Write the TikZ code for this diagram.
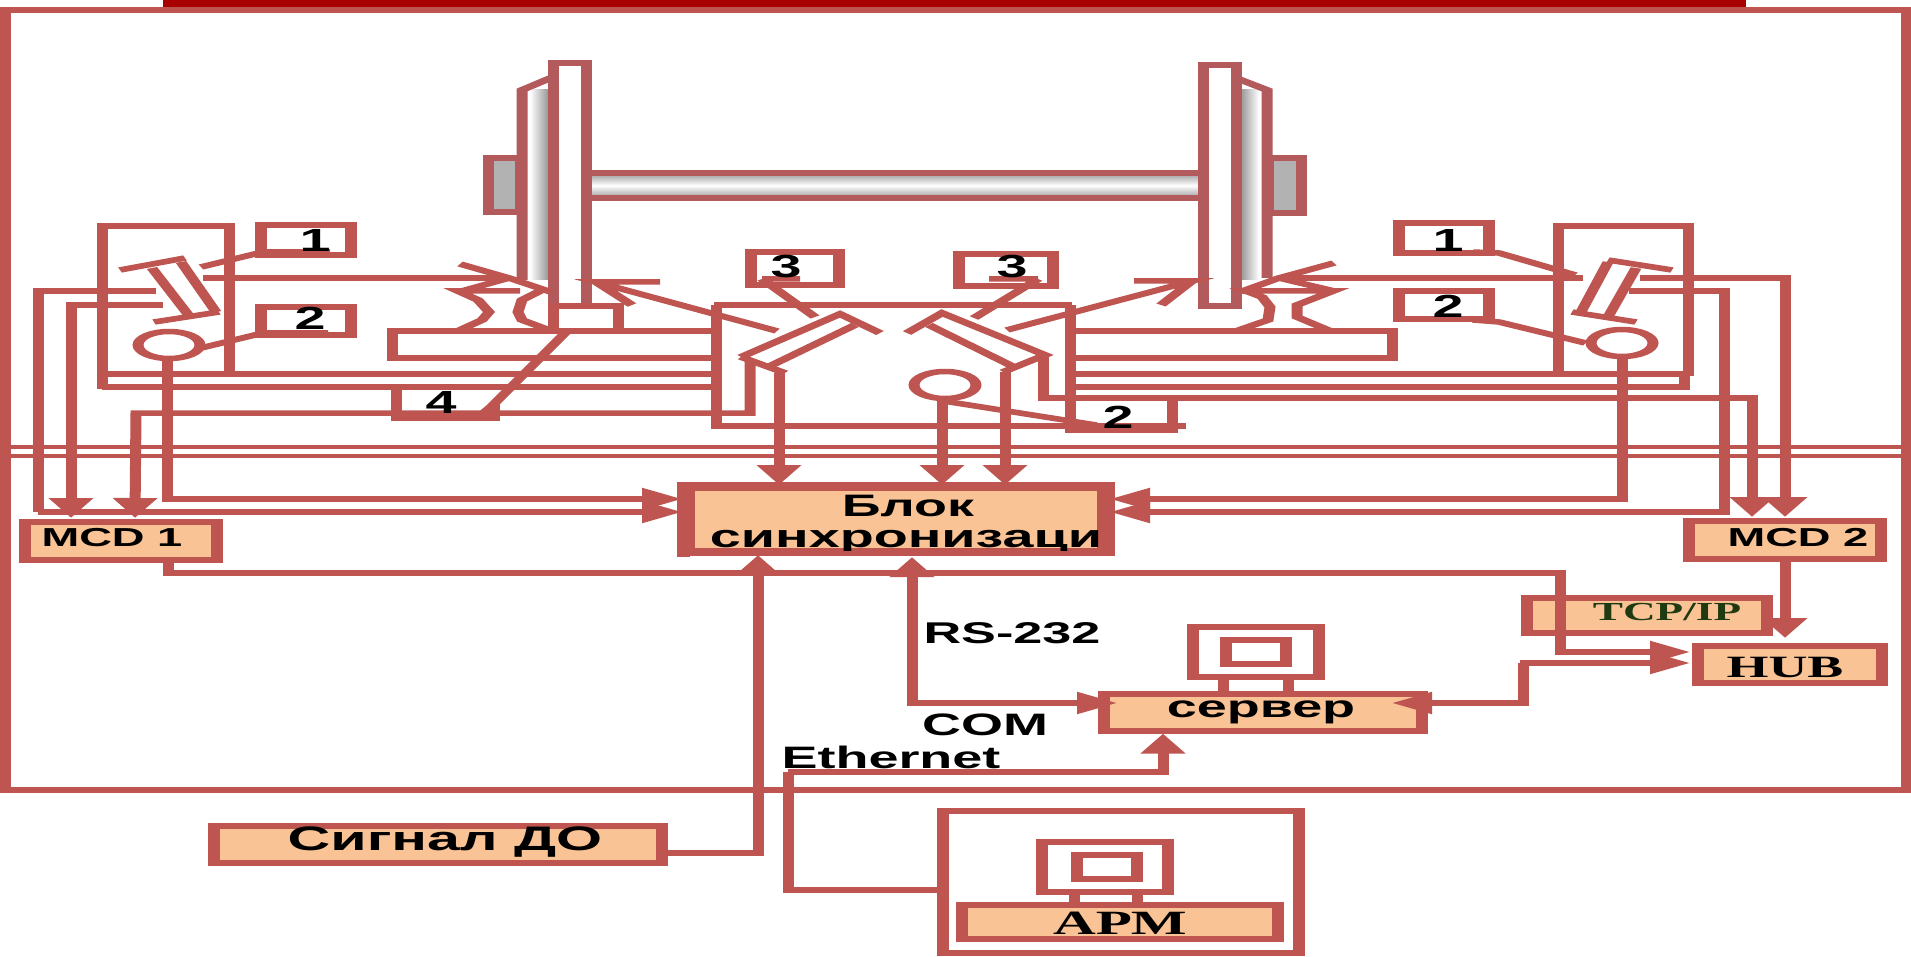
\documentclass[tikz,border=0pt]{standalone}
\usepackage{fontspec}
\setmainfont[FakeStretch=0.87]{Liberation Sans}
\newfontfamily\srf[FakeStretch=0.87]{Liberation Serif}
\usetikzlibrary{arrows.meta,shapes.geometric}
\definecolor{ln}{HTML}{BE5550}
\definecolor{lw}{HTML}{B25A5C}
\definecolor{fl}{HTML}{F9C396}
\definecolor{barred}{HTML}{A80000}
\definecolor{tcpg}{HTML}{1F3A10}
\newcommand{\sz}[1]{\fontsize{#1}{#1}\selectfont\bfseries}
\tikzset{
  wire/.style={draw=ln,line width=5.5pt,line join=miter},
  ar/.style={wire,-{Triangle[length=20pt,width=21pt]}},
  arr/.style={wire,{Triangle[length=20pt,width=21pt]}-{Triangle[length=20pt,width=21pt]}},
  whl/.style={draw=lw,line width=5.5pt,line join=miter},
  tagbox/.style={draw=ln,line width=6pt,inner sep=0pt},
  bx/.style={draw=ln,fill=fl,line width=6pt,inner sep=0pt},
  lbl/.style={inner sep=0pt,text=black},
  eye/.style={ellipse,draw=ln,line width=5.5pt,inner sep=0pt,minimum width=31pt,minimum height=27pt},
}
\begin{document}
\begin{tikzpicture}
\useasboundingbox (0pt,0pt) rectangle (1911pt,-957pt);
\fill[white] (0pt,0pt) rectangle (1911pt,-957pt);
\fill[barred] (163pt,0pt) rectangle (1746pt,-7pt);
\begin{scope}[transform canvas={xscale=2},x=.5pt,y=-1pt]
% frame
\draw[wire] (0,10) -- (1906,10) -- (1906,790) -- (0,790);
\draw[wire] (5,10) -- (5,790);
\draw[wire,line width=4pt] (0,447) -- (1911,447) (0,456) -- (1911,456);
% wheels
\shade[left color=white,right color=gray!85] (530,90) rectangle (549,280);
\shade[left color=gray!85,right color=white] (1240,90) rectangle (1259,280);
\shade[top color=gray!80,bottom color=gray!80,middle color=white] (589,173) rectangle (1199,198);
\draw[whl,fill=gray!60] (488,158) rectangle (520,212);
\draw[whl,fill=gray!60] (1268,158) rectangle (1301,213);
\draw[whl] (589,173) -- (1199,173) (589,198) -- (1199,198);
\draw[whl] (553,305) -- (553,63) -- (586,63) -- (586,305);
\draw[whl] (1203,65) rectangle (1236,306);
\draw[whl] (553,77) -- (522,90) -- (522,280);
\draw[whl] (1236,78) -- (1267,90) -- (1267,278);
% rails and chassis
\draw[wire] (714,331) -- (392,331) -- (392,358) -- (714,358);
\draw[wire] (1072,331) -- (1392,331) -- (1392,358) -- (1072,358);
\draw[wire] (553,330) -- (553,306) -- (618,306) -- (618,330);
\draw[wire] (460,330) -- (482,320) -- (489,312) -- (478,300) -- (458,291) -- (520,291);
\draw[wire] (549,330) -- (522,320) -- (518,312) -- (522,300) -- (540,291);
\draw[wire] (1239,330) -- (1268,320) -- (1270,307) -- (1262,297) -- (1246,291) -- (1333,291) -- (1297,305) -- (1297,317) -- (1328,330);
% sensor housings
\draw[wire] (714,374) -- (102,374) (714,387) -- (102,387);
\draw[wire] (229,374) -- (229,226) -- (102,226) -- (102,389);
\draw[wire] (1072,374) -- (1688,374) (1072,387) -- (1684,387) -- (1684,374);
\draw[wire] (1558,374) -- (1558,226) -- (1688,226) -- (1688,376);
\draw[wire] (714,305) -- (1072,305);
\draw[wire] (716,305) -- (716,426) -- (1186,426);
\draw[wire] (1070,305) -- (1070,430) -- (1172,430) -- (1172,398);
% tag boxes
\node[tagbox,minimum width=45pt,minimum height=30pt] (tagAa) at (306,240) {};
\node[tagbox,minimum width=45pt,minimum height=28pt] (tagAb) at (306,321) {};
\node[tagbox,minimum width=45pt,minimum height=30pt] (tagBa) at (1444,238) {};
\node[tagbox,minimum width=45pt,minimum height=28pt] (tagBb) at (1444,305) {};
\node[tagbox,minimum width=44pt,minimum height=33pt] (tagCa) at (795,269) {};
\node[tagbox,minimum width=47pt,minimum height=32pt] (tagCb) at (1006,270) {};
\draw[wire] (396,387) -- (396,418) -- (494,418) -- (494,404);
% eyes
\node[eye] (eyeL) at (169,345) {};
\node[eye] (eyeR) at (1622,343) {};
\node[eye] (eyeC) at (945,385) {};
% rotated sensors
\draw[wire] (120,270) -- (185,258) (154,322) -- (219,312);
\draw[wire] (152,268) -- (190,317) (181,262) -- (216,312);
\draw[wire] (1608,260) -- (1672,270) (1572,312) -- (1636,322);
\draw[wire] (1608,262) -- (1581,312) (1636,268) -- (1608,317);
\draw[wire] (741,357) -- (840,314) -- (880,333) (741,357) -- (785,373);
\draw[wire] (768,367) -- (855,325);
\draw[wire] (907,333) -- (942,313) -- (1045,355) -- (1003,372);
\draw[wire] (929,325) -- (1016,368);
% leader lines
\coordinate (c1) at (201,267);
\draw[wire] (c1) -- (263,252) -- (330,252);
\draw[wire] (eyeL) ++(32,3) -- (263,333) -- (328,333);
\draw[wire] (1473,252) -- (1499,253) -- (1575,275);
\draw[wire] (1473,320) -- (1499,322) -- (eyeR.west);
\draw[wire] (762,279) -- (815,317) (762,279) -- (800,279);
\draw[wire] (1038,279) -- (974,318) (989,279) -- (1038,279);
\draw[wire] (eyeC.south) -- (1096,425);
\draw[wire] (565,333) -- (491,407) -- (480,416);
% sensor-to-wheel arrows
\draw[wire] (203,278) -- (509,278);
\draw[wire] (460,264) -- (509,278) -- (551,292) (509,278) -- (462,291);
\draw[wire] (777,331) -- (596,282) -- (660,282) (596,282) -- (632,305);
\draw[wire] (1007,330) -- (1192,281) -- (1134,281) (1192,281) -- (1161,305);
\draw[wire] (1583,278) -- (1279,278);
\draw[wire] (1334,263) -- (1279,278) -- (1240,292) (1279,278) -- (1334,291);
% functional boxes
\node[bx,minimum width=96pt,minimum height=38pt] (mcdA) at (121,541) {};
\node[bx,minimum width=96pt,minimum height=38pt] (mcdB) at (1785,540) {};
\node[bx,minimum width=207pt,minimum height=63pt] (sync) at (896,519) {};
\node[bx,minimum width=120pt,minimum height=35pt] (tcp) at (1647,615) {};
\node[bx,minimum width=92pt,minimum height=37pt] (hub) at (1790,664) {};
\node[bx,minimum width=159pt,minimum height=37pt] (srv) at (1263,712) {};
\node[bx,minimum width=224pt,minimum height=37pt] (sig) at (438,844) {};
\node[tagbox,minimum width=178pt,minimum height=142pt] (armf) at (1121,882) {};
\node[bx,minimum width=158pt,minimum height=34pt] (arm) at (1120,922) {};
\node[tagbox,minimum width=63pt,minimum height=50pt] (monS) at (1256,652) {};
\node[tagbox,minimum width=30pt,minimum height=24pt] (monSi) at (1256,652) {};
\node[tagbox,minimum width=63pt,minimum height=50pt] (monA) at (1105,867) {};
\node[tagbox,minimum width=30pt,minimum height=24pt] (monAi) at (1107,867) {};
\draw[wire] (monS.south -| 1223,0) -- (srv.north -| 1223,0);
\draw[wire] (monS.south -| 1288,0) -- (srv.north -| 1288,0);
\draw[wire] (monA.south -| 1074,0) -- (arm.north -| 1074,0);
\draw[wire] (monA.south -| 1137,0) -- (arm.north -| 1137,0);
% sync text, clipped by the box border
\node[lbl] (syncA) at (908,506) {\sz{31}Блок};
\node[lbl,anchor=base] (syncB) at (906,547) {\sz{32}синхронизаци};
\draw[draw=ln,line width=6pt] (sync.south west) rectangle (sync.north east);
\fill[white] (690,556) rectangle (1120,568);
% wires to MCD 1
\coordinate (aA) at (156,291); \coordinate (aB) at (163,305); \coordinate (aC) at (750,360);
\coordinate (mA) at (71,518);  \coordinate (mB) at (135,518);
\coordinate (sA) at (682,512); \coordinate (sB) at (682,499);
\draw[wire] (aA) -- (38,291) -- (38,512);
\draw[ar] (38,512) -- (sA);
\draw[ar] (aB) -- (71,305) -- (mA);
\draw[ar] (aC) -- (750,413) -- (136,413) -- (mB);
\draw[ar] (eyeL.south -| 167,0) -- (167,499) -- (sB);
% wires to top of sync
\draw[ar] (779,373) -- (779,485);
\draw[ar] (eyeC.south -| 942,0) -- (942,485);
\draw[ar] (1005,372) -- (1005,485);
% wires to MCD 2
\coordinate (bA) at (1640,278); \coordinate (bB) at (1629,291); \coordinate (bC) at (1043,355);
\coordinate (tA) at (1110,512); \coordinate (tB) at (1110,499);
\draw[ar] (bA) -- (1785,278) -- (1785,517);
\draw[ar] (bB) -- (1724,291) -- (1724,512) -- (tA);
\draw[ar] (bC) -- (1043,398) -- (1752,398) -- (1752,517);
\draw[ar] (eyeR.south) -- (1622,499) -- (tB);
% lower wiring
\coordinate (hA) at (1690,652); \coordinate (hB) at (1690,663);
\draw[ar] (168,563) -- (168,573) -- (1560,573) -- (1560,652) -- (hA);
\draw[ar] (mcdB.south -| 1785,0) -- (1785,638);
\draw[ar] (srv.east |- 0,703) -- (1392,703);
\draw[wire] (1428,703) -- (1523,703) -- (1523,663);
\draw[ar] (1520,663) -- (hB);
\draw[arr] (912,557) -- (912,703) -- (1117,703);
\draw[ar] (sig.east |- 0,853) -- (758,853) -- (758,555);
\draw[wire] (armf.west |- 0,890) -- (788,890) -- (788,772);
\draw[ar] (788,772) -- (1163,772) -- (srv.south -| 1163,0);
% labels
\node[lbl] (t1a) at (315,240) {\sz{32}1};
\node[lbl] (t2a) at (310,318) {\sz{32}2};
\node[lbl] (t1b) at (1448,240) {\sz{32}1};
\node[lbl] (t2b) at (1448,306) {\sz{32}2};
\node[lbl] (t3a) at (786,267) {\sz{32}3};
\node[lbl] (t3b) at (1012,267) {\sz{32}3};
\node[lbl] (t4) at (441,402) {\sz{32}4};
\node[lbl] (t2c) at (1118,417) {\sz{32}2};
\node[lbl] (tmcdA) at (112,538) {\sz{26}MCD 1};
\node[lbl] (tmcdB) at (1798,538) {\sz{26}MCD 2};
\node[lbl,text=tcpg] (ttcp) at (1667,612) {\srf\sz{26}TCP/IP};
\node[lbl] (thub) at (1785,667) {\srf\sz{31}HUB};
\node[lbl] (tsrv) at (1261,712) {\sz{31}сервер};
\node[lbl] (tsig) at (445,842) {\sz{34}Сигнал ДО};
\node[lbl] (tarm) at (1120,923) {\srf\sz{34}АРМ};
\node[lbl] (trs) at (1012,633) {\sz{30}RS-232};
\node[lbl] (tcom) at (985,725) {\sz{31}COM};
\node[lbl] (teth) at (891,757) {\sz{31}Ethernet};
\end{scope}
\end{tikzpicture}
\end{document}
